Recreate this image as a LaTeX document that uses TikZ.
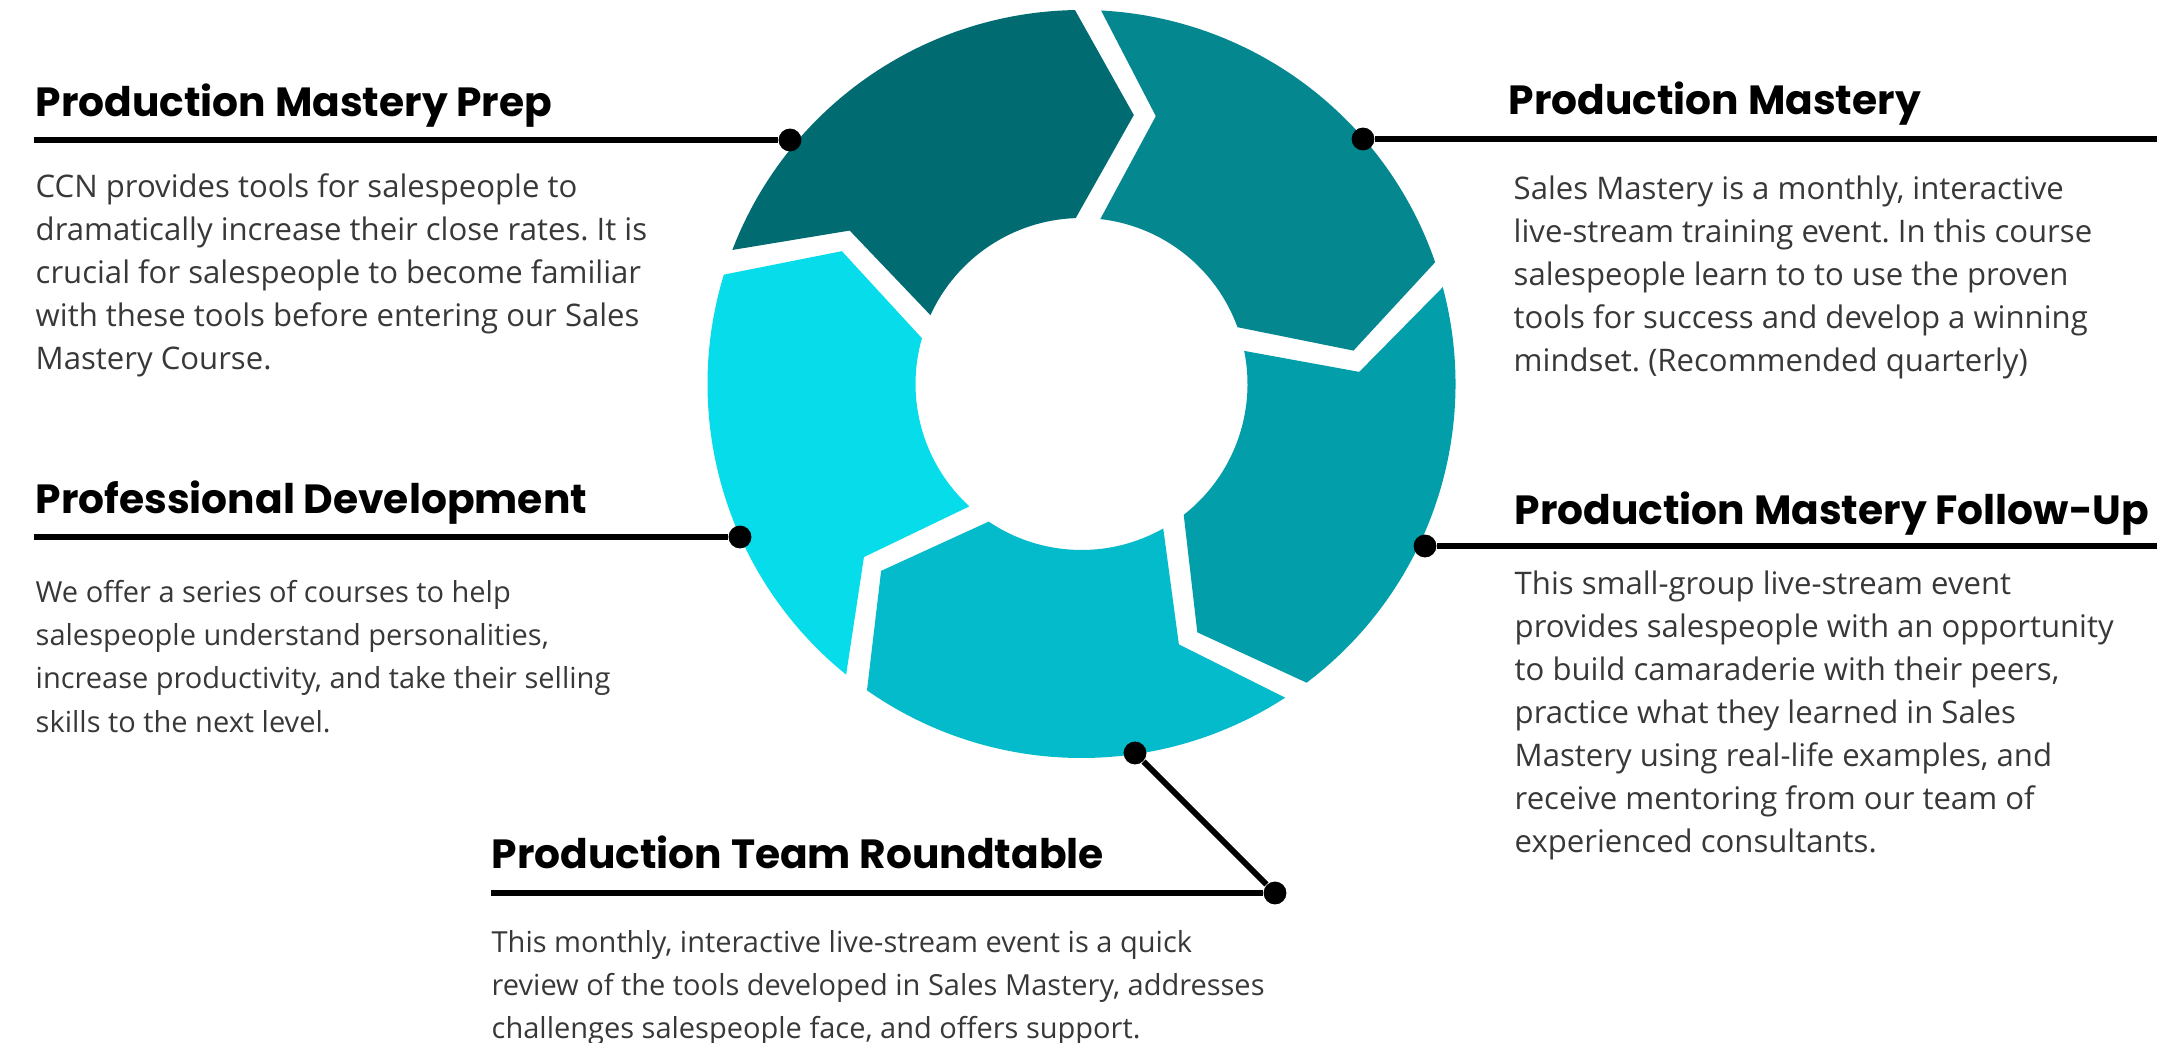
\documentclass[tikz,border=0pt]{standalone}
\usepackage{fontspec}
\setmainfont{Open Sans}
\newfontfamily\titlefont{Poppins}
\frenchspacing

\definecolor{ringA}{HTML}{016B72}
\definecolor{ringB}{HTML}{05878F}
\definecolor{ringC}{HTML}{029EA9}
\definecolor{ringD}{HTML}{03BBCA}
\definecolor{ringE}{HTML}{07DDEA}
\definecolor{bodygray}{HTML}{383838}

\begin{document}
\begin{tikzpicture}[
        titel/.style={anchor=base west, inner sep=0pt, font=\titlefont\bfseries\fontsize{11.6}{13}\selectfont},
        body/.style={anchor=north west, inner sep=0pt, align=left, text=bodygray, font=\fontsize{#1}{12.25}\selectfont},
        body/.default=8.85,
        lead/.style={line width=1.7pt},
        dot/.style={circle, fill=black, inner sep=0pt, minimum size=6.5pt}
    ]
        \useasboundingbox (0,0) rectangle (21.57,-10.43);

        % Ring aus fuenf Pfeilsegmenten
        \begin{scope}[shift={(10.815,-3.84)}]
            \foreach \farbe [count=\k from 0] in {ringA,ringB,ringC,ringD,ringE} {
                \pgfmathsetmacro{\a}{161-72*\k}
                \pgfmathsetmacro{\b}{\a-72}
                \fill[\farbe] ({\a-2}:3.74) arc[start angle=\a-2, end angle=\b+2, radius=3.74]
                    -- ({\b-10}:2.74) -- ({\b+3}:1.66)
                    arc[start angle=\b+3, end angle=\a-5.5, radius=1.66]
                    -- ({\a-14.5}:2.78) -- cycle; % Segment
            }
        \end{scope}

        % Punkte am Ring
        \node[dot] (pPrep) at (7.90,-1.40) {};
        \node[dot] (pMast) at (13.63,-1.39) {};
        \node[dot] (pProf) at (7.40,-5.37) {};
        \node[dot] (pFoll) at (14.25,-5.46) {};
        \node[dot] (pRound) at (11.35,-7.53) {};
        \node[dot] (pKnick) at (12.75,-8.93) {};

        % Linienenden
        \coordinate (ePrep) at (0.34,-1.40);
        \coordinate (eMast) at (21.57,-1.39);
        \coordinate (eProf) at (0.34,-5.37);
        \coordinate (eFoll) at (21.57,-5.46);
        \coordinate (eRound) at (4.91,-8.93);

        \draw[lead] (ePrep) -- (pPrep);
        \draw[lead] (pMast) -- (eMast);
        \draw[lead] (eProf) -- (pProf);
        \draw[lead] (pFoll) -- (eFoll);
        \draw[lead] (pRound) -- (pKnick);
        \draw[lead] (eRound) -- (pKnick);

        % Ueberschriften
        \node[titel] (tPrep) at (0.35,-1.17) {Production Mastery Prep};
        \node[titel] (tMast) at (15.08,-1.15) {Production Mastery};
        \node[titel] (tProf) at (0.35,-5.14) {Professional Development};
        \node[titel] (tFoll) at (15.14,-5.25) {Production Mastery Follow-Up};
        \node[titel] (tRound) at (4.91,-8.68) {Production Team Roundtable};

        % Beschreibungen
        \node[body] (bPrep) at (0.35,-1.73) {CCN provides tools for salespeople to\\
            dramatically increase their close rates. It is\\
            crucial for salespeople to become familiar\\
            with these tools before entering our Sales\\
            Mastery Course.};
        \node[body] (bMast) at (15.13,-1.75) {Sales Mastery is a monthly, interactive\\
            live-stream training event. In this course\\
            salespeople learn to to use the proven\\
            tools for success and develop a winning\\
            mindset. (Recommended quarterly)};
        \node[body=8.25] (bProf) at (0.35,-5.80) {We offer a series of courses to help\\
            salespeople understand personalities,\\
            increase productivity, and take their selling\\
            skills to the next level.};
        \node[body] (bFoll) at (15.14,-5.70) {This small-group live-stream event\\
            provides salespeople with an opportunity\\
            to build camaraderie with their peers,\\
            practice what they learned in Sales\\
            Mastery using real-life examples, and\\
            receive mentoring from our team of\\
            experienced consultants.};
        \node[body=8.25] (bRound) at (4.91,-9.30) {This monthly, interactive live-stream event is a quick\\
            review of the tools developed in Sales Mastery, addresses\\
            challenges salespeople face, and offers support.};
    \end{tikzpicture}
\end{document}
